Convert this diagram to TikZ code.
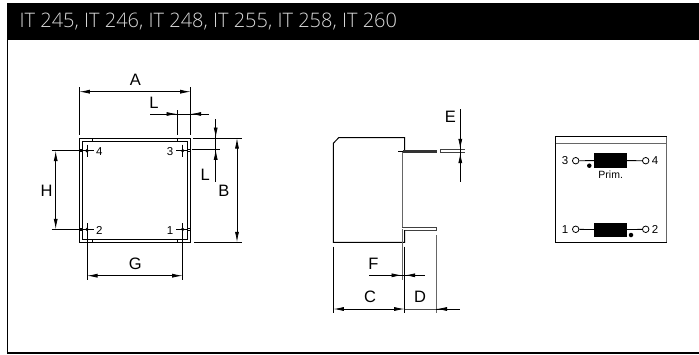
\documentclass[tikz,border=0pt]{standalone}
\usepackage{fontspec}
\setmainfont{Liberation Sans}
\newfontfamily\hdfont{Open Sans Light}
\usetikzlibrary{arrows.meta}
\tikzset{
  x=1pt,y=-1pt,
  ln/.style={line width=0.8pt,black},
  gr/.style={line width=1pt,black!60},
  dim/.style={line width=0.8pt,black,{Latex[length=10.5pt,width=4pt]}-{Latex[length=10.5pt,width=4pt]}},
  arr/.style={line width=0.8pt,black,-{Latex[length=10.5pt,width=4pt]}},
  lab/.style={font=\fontsize{16.5}{17}\selectfont,inner sep=0pt},
  pin/.style={font=\fontsize{11.5}{12}\selectfont,inner sep=0pt},
  dot/.style={circle,fill=black,inner sep=0pt,minimum size=4.5pt},
  term/.style={circle,draw=black,fill=white,line width=0.8pt,inner sep=0pt,minimum size=6.5pt},
  coil/.style={fill=black,draw=none,inner sep=0pt},
}
\begin{document}
\begin{tikzpicture}
\useasboundingbox (0,0) rectangle (699,354);
% frame and header
\draw[line width=0.9pt,black] (7.3,40) -- (7.3,353);
\draw[line width=1.5pt,black] (7,353) -- (699,353);
\fill[black] (7,3.3) rectangle (699,40);
\node[anchor=west,inner sep=0pt,text=black!15,font=\hdfont\fontsize{20}{21}\selectfont] (title) at (19.5,21.5) {IT 245, IT 246, IT 248, IT 255, IT 258, IT 260};

% ---- top view
\draw[ln,line width=1pt] (79.3,138) rectangle (190.7,242.3);
\draw[ln,line width=1pt] (82.3,141) rectangle (187.3,239.3);
\foreach \x in {92.3,177.3}{
  \draw[ln] (\x,138) -- (\x,141);
  \draw[ln] (\x,239.3) -- (\x,242.3);
}
\foreach \x/\y/\n in {87/150.7/p4,182.7/150.7/p3,87/229.3/p2,182.7/229.3/p1}{
  \node[dot,minimum size=3.6pt] (\n) at (\x,\y) {};
  \draw[ln,line width=0.6pt] (\x,\y-6) -- (\x,\y+6);
}
\foreach \y in {149.7,151.7,228.3,230.3}{
  \draw[ln,line width=0.6pt] (79.3,\y) -- (82.3,\y);
  \draw[ln,line width=0.6pt] (187.3,\y) -- (190.7,\y);
}
\draw[ln,line width=0.6pt] (82,150.7) -- (94,150.7);
\draw[ln,line width=0.6pt] (82,229.3) -- (94,229.3);
\draw[ln,line width=0.6pt] (176,150.7) -- (187,150.7);
\draw[ln,line width=0.6pt] (176,229.3) -- (187,229.3);
\node[pin] (n4) at (99.3,151.7) {4};
\node[pin] (n3) at (170,151.7) {3};
\node[pin] (n2) at (99.3,230.3) {2};
\node[pin] (n1) at (170,230.3) {1};

% A
\draw[ln] (79.3,87) -- (79.3,135);
\draw[ln] (190.7,87) -- (190.7,135);
\draw[dim] (79.3,91.7) -- (190.7,91.7);
\node[lab] (A) at (135.3,80) {A};
% L top
\draw[ln] (177,110) -- (177,135);
\draw[ln] (150,114) -- (209,114);
\draw[arr] (162,114) -- (177,114);
\draw[arr] (203,114) -- (190.7,114);
\node[lab] (L1) at (154,102.7) {L};
% L right
\draw[ln] (215.7,119) -- (215.7,181.7);
\draw[arr] (215.7,124) -- (215.7,138);
\draw[arr] (215.7,163) -- (215.7,149.3);
\draw[ln] (193.3,138) -- (241.7,138);
\draw[ln] (191.7,149.3) -- (220,149.3);
\node[lab] (L2) at (205.3,175) {L};
% B
\draw[ln] (194,242.3) -- (241.7,242.3);
\draw[dim] (237,138) -- (237,242.3);
\node[lab] (B) at (224,191) {B};
% H
\draw[ln] (51.7,150.7) -- (85,150.7);
\draw[ln] (51.7,229.3) -- (85,229.3);
\draw[dim] (55.7,150.7) -- (55.7,229.3);
\node[lab] (H) at (46.7,191) {H};
% G
\draw[ln] (87,226.7) -- (87,280);
\draw[ln] (182.7,226.7) -- (182.7,280);
\draw[dim] (87,275.7) -- (182.7,275.7);
\node[lab] (G) at (135.3,264) {G};

% ---- side view
\draw[ln,line width=1pt] (404.7,150) -- (404.7,137.7) -- (338.7,137.7) -- (333.3,143.3) -- (333.3,242.3) -- (404.7,242.3) -- (404.7,230);
\draw[gr] (402,151) -- (402,226.7);
\draw[gr] (402,229) -- (402,280);
\draw[line width=3pt,black!80] (403,151) -- (436.7,151);
\draw[ln,line width=0.7pt] (398.3,151) -- (403,151);
\draw[ln,line width=0.9pt,black!75] (402,227.7) -- (436.7,227.7);
\draw[ln,line width=0.9pt,black!75] (405,230.5) -- (436.7,230.5);
\draw[ln,line width=0.9pt,black!75] (436.7,227.7) -- (436.7,230.5);
\draw[ln,line width=0.9pt,black!75] (440,149.3) -- (465,149.3);
\draw[ln,line width=0.9pt,black!75] (440,152.5) -- (465,152.5);
\draw[ln,line width=0.9pt,black!75] (440,149.3) -- (440,152.5);
% E
\draw[ln] (460.3,109.3) -- (460.3,181.7);
\draw[arr] (460.3,138) -- (460.3,149.3);
\draw[arr] (460.3,164) -- (460.3,152.7);
\node[lab] (E) at (450.3,117.3) {E};
% F
\draw[ln] (369.3,275.3) -- (425.3,275.3);
\draw[arr] (390,275.3) -- (402,275.3);
\draw[arr] (416,275.3) -- (404.7,275.3);
\node[lab] (F) at (373.3,264) {F};
% C D
\draw[ln] (333.3,246.7) -- (333.3,313.3);
\draw[ln] (404.7,246.7) -- (404.7,313.3);
\draw[gr] (436,235) -- (436,313.3);
\draw[dim] (333.3,309) -- (404.7,309);
\draw[ln,black!70] (404.7,309) -- (436,309);
\draw[ln] (436,309) -- (460,309);
\draw[arr] (448,309) -- (436.5,309);
\node[lab] (C) at (370,296.7) {C};
\node[lab] (D) at (420,296.7) {D};

% ---- schematic
\draw[ln,line width=1pt] (666.7,136.7) -- (555.7,136.7) -- (555.7,242.3) -- (666.7,242.3);
\draw[gr] (666.7,136.7) -- (666.7,242.3);
\draw[gr,line width=0.8pt] (555.7,143.3) -- (666.7,143.3);
\node[coil,minimum width=32.7pt,minimum height=14.4pt] (c1) at (610.3,160.5) {};
\node[coil,minimum width=32.7pt,minimum height=14pt] (c2) at (610.3,229.7) {};
\node[term] (t3) at (575.7,160.7) {};
\node[term] (t4) at (645.7,160.7) {};
\node[term] (t1) at (575.7,229.3) {};
\node[term] (t2) at (645.7,229.3) {};
\draw[ln] (t3) -- (c1);
\draw[ln] (c1) -- (t4);
\draw[ln] (t1) -- (c2);
\draw[ln] (c2) -- (t2);
\node[dot] (d1) at (589.3,165.7) {};
\node[dot] (d2) at (631,235) {};
\node[pin] (s3) at (565,160.7) {3};
\node[pin] (s4) at (655,160.7) {4};
\node[pin] (s1) at (565,229.5) {1};
\node[pin] (s2) at (655,229.5) {2};
\node[pin,font=\fontsize{10.5}{11}\selectfont] (prim) at (610.7,175) {Prim.};
\end{tikzpicture}
\end{document}
